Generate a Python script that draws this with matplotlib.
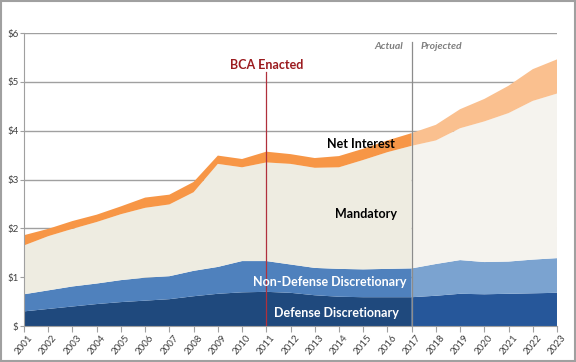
# Federal spending by category, actual vs projected
import matplotlib.pyplot as plt
import numpy as np

plt.rcParams['font.family'] = ['Lato', 'DejaVu Sans']

years = list(range(2001, 2024))
defense = [0.30, 0.35, 0.40, 0.45, 0.49, 0.52, 0.55, 0.61, 0.66, 0.69, 0.70, 0.68,
           0.63, 0.60, 0.59, 0.59, 0.59, 0.62, 0.66, 0.65, 0.66, 0.67, 0.68]
discretionary_top = [0.65, 0.73, 0.81, 0.87, 0.94, 0.99, 1.02, 1.13, 1.21, 1.33, 1.33, 1.26,
                     1.19, 1.17, 1.16, 1.17, 1.18, 1.27, 1.35, 1.31, 1.32, 1.36, 1.39]
mandatory_top = [1.65, 1.84, 1.99, 2.13, 2.29, 2.42, 2.49, 2.74, 3.32, 3.25, 3.35, 3.32,
                 3.24, 3.25, 3.40, 3.56, 3.69, 3.80, 4.05, 4.19, 4.36, 4.61, 4.76]
total = [1.86, 1.99, 2.15, 2.28, 2.45, 2.63, 2.69, 2.95, 3.49, 3.42, 3.57, 3.52,
         3.44, 3.48, 3.63, 3.80, 3.95, 4.12, 4.44, 4.65, 4.92, 5.26, 5.46]

nondefense = np.array(discretionary_top) - np.array(defense)
mandatory = np.array(mandatory_top) - np.array(discretionary_top)
interest = np.array(total) - np.array(mandatory_top)

actual_end = 2017
i = years.index(actual_end)

fig = plt.figure(figsize=(5.76, 3.62), dpi=100)
ax = fig.add_axes([0.0417, 0.0994, 0.9253, 0.8094])

actual_colors = ['#1f497d', '#4f81bd', '#eeece1', '#f79646']
proj_colors = ['#26579a', '#7ba3d0', '#f5f3ee', '#fac08f']

ax.stackplot(years[:i + 1], defense[:i + 1], nondefense[:i + 1], mandatory[:i + 1],
             interest[:i + 1], colors=actual_colors, linewidth=0, zorder=2)
ax.stackplot(years[i:], defense[i:], nondefense[i:], mandatory[i:], interest[i:],
             colors=proj_colors, linewidth=0, zorder=2)

ax.set_xlim(2001, 2023)
ax.set_ylim(0, 6)
ax.set_xticks(years)
ax.set_xticklabels([str(y) for y in years], rotation=50, fontsize=7)
ax.set_yticks(range(0, 7))
ax.set_yticklabels(['$'] + ['$%d' % v for v in range(1, 7)], fontsize=7)
ax.yaxis.grid(True, color='#a0a0a0', linewidth=1)
ax.set_axisbelow(True)
for s in ['top', 'right']:
    ax.spines[s].set_visible(False)
ax.spines['left'].set_color('#a0a0a0')
ax.spines['bottom'].set_color('#a0a0a0')
ax.tick_params(axis='both', colors='#a0a0a0', labelcolor='#404040', length=4, pad=1)
ax.tick_params(axis='y', direction='out', length=3)

# BCA line
ax.plot([2011, 2011], [0, 5.2], color='#b0303c', linewidth=0.9, zorder=3)
ax.text(2011, 5.35, 'BCA Enacted', color='#9b1b1f', fontsize=9, fontweight='bold',
        ha='center', va='center')

# actual / projected divider
ax.plot([actual_end, actual_end], [0, 5.82], color='#8c8c8c', linewidth=0.9, zorder=3)
ax.text(actual_end - 0.35, 5.73, 'Actual', color='#7f7f7f', fontsize=7.5, style='italic',
        fontweight='bold', ha='right', va='center')
ax.text(actual_end + 0.35, 5.73, 'Projected', color='#7f7f7f', fontsize=7.5, style='italic',
        fontweight='bold', ha='left', va='center')

ax.text(2014.9, 3.72, 'Net Interest', fontsize=9, fontweight='bold', color='black',
        ha='center', va='center', zorder=4)
ax.text(2015.1, 2.3, 'Mandatory', fontsize=9, fontweight='bold', color='black',
        ha='center', va='center', zorder=4)
ax.text(2013.6, 0.9, 'Non-Defense Discretionary', fontsize=9, fontweight='bold',
        color='white', ha='center', va='center', zorder=4)
ax.text(2013.9, 0.27, 'Defense Discretionary', fontsize=9, fontweight='bold',
        color='white', ha='center', va='center', zorder=4)

# outer frame
fig.patches.append(plt.Rectangle((0.001, 0.002), 0.997, 0.995, transform=fig.transFigure,
                                 fill=False, edgecolor='#a0a0a0', linewidth=1.5))

plt.savefig('out.png', dpi=100)
plt.close()
